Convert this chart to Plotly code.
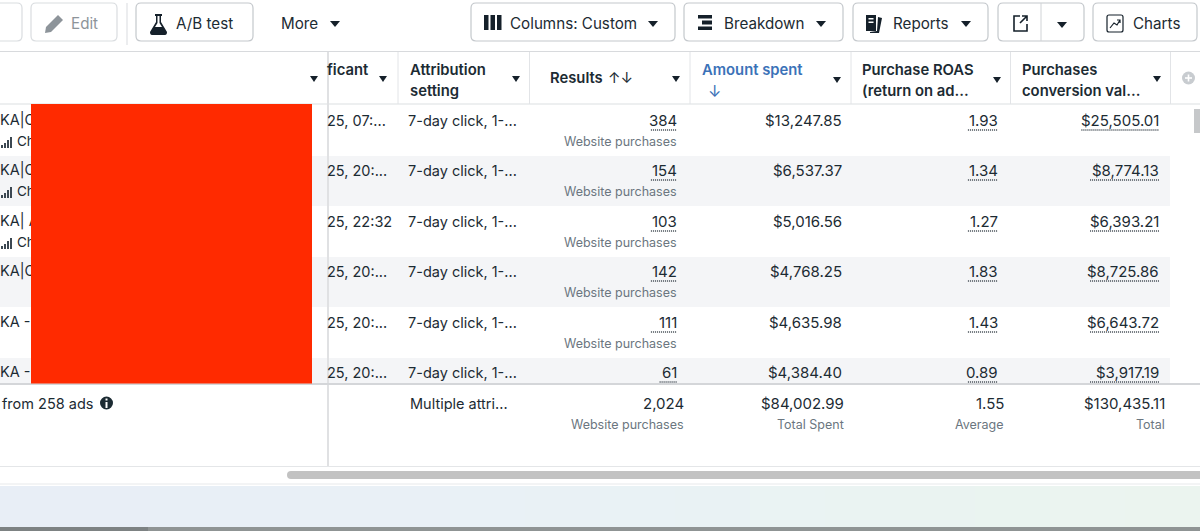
import plotly.graph_objects as go

FONT = "Inter"
DARK = "#1c2b33"
GREY = "#6b7680"
BLUE = "#3b72b8"

names = ["KA|C", "KA|C", "KA| A", "KA|C", "KA -", "KA -"]
last_significant = ["25, 07:...", "25, 20:...", "25, 22:32", "25, 20:...", "25, 20:...", "25, 20:..."]
attribution = ["7-day click, 1-..."] * 6
results = ["384", "154", "103", "142", "111", "61"]
amount_spent = ["$13,247.85", "$6,537.37", "$5,016.56", "$4,768.25", "$4,635.98", "$4,384.40"]
roas = ["1.93", "1.34", "1.27", "1.83", "1.43", "0.89"]
conversion_value = ["$25,505.01", "$8,774.13", "$6,393.21", "$8,725.86", "$6,643.72", "$3,917.19"]
row_centers = [121, 171, 222, 272, 323, 373]

totals = ["2,024", "$84,002.99", "1.55", "$130,435.11"]
total_labels = ["Website purchases", "Total Spent", "Average", "Total"]
total_right = [684, 844, 1004, 1165]

toolbar_labels = ["Edit", "A/B test", "More", "Columns: Custom", "Breakdown", "Reports", "Charts"]
toolbar_x = [71, 176, 281, 510, 724, 893, 1133]
toolbar_colors = ["#8d949a", DARK, DARK, DARK, DARK, DARK, DARK]

fig = go.Figure()
shapes = []
notes = []


def rect(x0, y0, x1, y1, fill, line=None, width=1, layer="below"):
    shapes.append(dict(type="rect", x0=x0, y0=y0, x1=x1, y1=y1, fillcolor=fill, layer=layer,
                       line=dict(color=line or fill, width=width if line else 0)))


def hline(x0, x1, y, color, width=1, dash="solid"):
    shapes.append(dict(type="line", x0=x0, x1=x1, y0=y, y1=y, layer="below",
                       line=dict(color=color, width=width, dash=dash)))


def vline(x, y0, y1, color, width=1):
    shapes.append(dict(type="line", x0=x, x1=x, y0=y0, y1=y1, layer="below", line=dict(color=color, width=width)))


def path(d, fill, line=None, width=1):
    shapes.append(dict(type="path", path=d, fillcolor=fill, layer="below",
                       line=dict(color=line or fill, width=width if line else 0)))


def circle(cx, cy, r, fill):
    shapes.append(dict(type="circle", x0=cx - r, x1=cx + r, y0=cy - r, y1=cy + r, fillcolor=fill,
                       layer="below", line=dict(width=0)))


def button(x0, x1, color="#c4c8cc", y0=3, y1=41, r=5):
    d = (f"M {x0+r} {y0} L {x1-r} {y0} Q {x1} {y0} {x1} {y0+r} L {x1} {y1-r} Q {x1} {y1} {x1-r} {y1} "
         f"L {x0+r} {y1} Q {x0} {y1} {x0} {y1-r} L {x0} {y0+r} Q {x0} {y0} {x0+r} {y0} Z")
    path(d, "white", color, 1.2)


def caret(x, y, w=5, color="#15202a"):
    path(f"M {x-w} {y-3} L {x+w} {y-3} L {x} {y+3} Z", color)


def text(x, y, s, size=14.5, color=DARK, anchor="left", weight=400):
    # annotations carry about 2px of padding, take it back out
    shift = -2 if anchor == "left" else 2
    notes.append(dict(x=x + shift, y=y - 0.5, text=s, showarrow=False, xanchor=anchor, yanchor="middle",
                      font=dict(family=FONT, size=size, color=color, weight=weight), align="left"))


def dotted_width(s):
    return sum(8.7 if c.isdigit() or c == "$" else 4 for c in s)


# table background
rect(0, 0, 1200, 531, "white")
for i in [1, 3, 5]:
    rect(327, row_centers[i] - 15, 1170, min(row_centers[i] + 35, 384), "#f4f5f7")
hline(0, 1200, 51.5, "#d8dadd", 1.2)
hline(0, 1200, 104, "#dcdfe2", 1.2)
for x in [398, 529.5, 690, 851, 1010.5, 1170.5]:
    vline(x, 52, 104, "#e2e4e7")

# toolbar
button(-20, 22, "#dadde0")
button(31, 117, "#dadde0")
vline(127, 3, 45, "#dfe1e4", 1.2)
button(136, 253)
button(471, 675)
button(684, 843)
button(853, 988)
button(998, 1084)
vline(1041, 3, 41, "#d0d3d6")
button(1093, 1197)

# toolbar icons
path("M 45 33 L 46 27 L 58 15 L 63 20 L 51 32 Z", "#8d949a")
path("M 155 14 L 162 14 L 162 16 L 161 16 L 161 22 L 167 32 Q 167 35 165 35 L 152 35 Q 150 35 150 32 L 156 22 L 156 16 L 155 16 Z",
     "#15202a")
path("M 157.5 16 L 159.5 16 L 159.5 23 L 162 27 L 155 27 L 157.5 23 Z", "white")
for x0 in [484, 490.5, 497]:
    rect(x0, 15, x0 + 4.5, 30, "#15202a")
rect(698, 15, 712, 18.5, "#15202a")
rect(702, 20.5, 712, 24.5, "#15202a")
rect(698, 26.5, 712, 30, "#15202a")
path("M 866 15 L 876 15 L 876 31 L 866 31 Z", "#15202a")
path("M 878 17 L 882 18 L 879 33 L 870 33 L 870 32 L 877 31 Z", "#15202a")
rect(868.5, 18, 873.5, 19.5, "white")
rect(868.5, 21.5, 873.5, 23, "white")
path("M 1020 16 L 1014 16 L 1014 31 L 1027 31 L 1027 24", "white", "#15202a", 1.6)
path("M 1020 23 L 1027 16 M 1022 16 L 1027 16 L 1027 21", "rgba(0,0,0,0)", "#15202a", 1.6)
button(1107, 1123, "#15202a", 15, 32, 2)
path("M 1110 28 L 1114 23 L 1117 25 L 1120 20 M 1117 20 L 1120 20 L 1120 23", "rgba(0,0,0,0)", "#15202a", 1.2)
for x, y in [(335, 24), (653, 24), (821, 24), (966, 24), (1062, 25)]:
    caret(x, y)

for s, x, c in zip(toolbar_labels, toolbar_x, toolbar_colors):
    text(x, 24, s, 15.2, c)

# column headers
H = 14.8
text(327, 70, "ficant", H, weight=600)
text(410, 70, "Attribution", H, weight=600)
text(410, 91, "setting", H, weight=600)
text(550, 78, "Results", H, weight=600)
text(608, 78, "↑↓", 15)
text(702, 70, "Amount spent", H, BLUE, weight=600)
text(708, 91, "↓", 16, BLUE)
text(862, 70, "Purchase ROAS", H, weight=600)
text(862, 91, "(return on ad...", H, weight=600)
text(1022, 70, "Purchases", H, weight=600)
text(1022, 91, "conversion val...", H, weight=600)
for x, y in [(383, 79), (516, 79), (676, 79), (837, 80), (997, 80), (1157, 79)]:
    caret(x, y, 4)
circle(1188.5, 78, 6.5, "#c8ccd0")
hline(1185, 1192, 78, "white", 1.6)
vline(1188.5, 74.5, 81.5, "white", 1.6)

# body rows
for i, y in enumerate(row_centers):
    text(408, y, attribution[i])
    text(327, y, last_significant[i])
    for col, right, underline in [(results, 677, True), (amount_spent, 842, False),
                                  (roas, 998, True), (conversion_value, 1159, True)]:
        text(right, y, col[i], 15, anchor="right")
        if underline:
            hline(right - dotted_width(col[i]), right, y + 9, "#3a444c", 1.3, "1px,1px")
    if i < 5:
        text(677, y + 21, "Website purchases", 12.5, GREY, "right")

# frozen left panel
rect(0, 52, 327, 466, "white")
vline(328, 52, 466, "#e0e1e3", 2)
hline(0, 327, 104, "#dcdfe2", 1.2)
for i in [1, 3, 5]:
    rect(0, row_centers[i] - 15, 327, min(row_centers[i] + 35, 384), "#f4f5f7")
caret(314, 79, 4)
for i, y in enumerate(row_centers):
    if i < 3:
        for k, h in enumerate([3, 5, 8, 11]):
            rect(1 + k * 3, y + 27 - h, 3 + k * 3, y + 27, "#3c4852")

# name text goes in as a trace so the red block can sit on top of it
fig.add_trace(go.Scatter(
    x=[0] * len(names), y=row_centers, text=names, mode="text", textposition="middle right",
    textfont=dict(family=FONT, size=14.5, color=DARK), hoverinfo="skip",
))
fig.add_trace(go.Scatter(
    x=[17] * 3, y=[y + 22 for y in row_centers[:3]], text=["Ch"] * 3, mode="text", textposition="middle right",
    textfont=dict(family=FONT, size=13.5, color=DARK), hoverinfo="skip",
))
rect(31, 104, 312, 383.5, "#ff2a00", layer="above")

# totals row
rect(329, 384, 1200, 466, "white")
hline(0, 1200, 384, "#d4d6d9", 2)
text(2, 404, "from 258 ads", 14.5)
circle(106.5, 403, 6.5, "#1c2b33")
rect(105.5, 402, 107.5, 408, "white")
rect(105.5, 398.5, 107.5, 400.5, "white")
text(410, 404, "Multiple attri...")
for val, label, right in zip(totals, total_labels, total_right):
    text(right, 404, val, 15, anchor="right")
    text(right, 425, label, 12.5, GREY, "right")

# scrollbars and bottom strip
rect(1194, 109, 1200, 133, "#c6c8ca")
hline(0, 1200, 466.5, "#e4e6e8", 1.2)
path("M 291 471 L 1200 471 L 1200 479 L 291 479 Q 287 479 287 475 Q 287 471 291 471 Z", "#c2c2c2")
hline(0, 1200, 484, "#e8e9ec", 1.2)
band_colors = ["#e8eef6", "#e8eef6", "#e8eff6", "#e8eff6", "#e9f0f6", "#e9f0f6", "#e9f1f6", "#e9f1f5",
               "#e9f2f5", "#e9f2f4", "#eaf3f3", "#eaf3f2", "#eaf3f1", "#eaf4f0", "#ebf4f0", "#ebf4ef"]
for i, c in enumerate(band_colors):
    rect(i * 75, 486, (i + 1) * 75, 527, c)
rect(0, 527, 1200, 531, "#8f9494")
rect(0, 527, 148, 531, "#7d8283")

fig.update_layout(
    width=1200, height=531,
    margin=dict(l=0, r=0, t=0, b=0),
    paper_bgcolor="white", plot_bgcolor="white",
    xaxis=dict(visible=False, range=[0, 1200], fixedrange=True),
    yaxis=dict(visible=False, range=[531, 0], fixedrange=True),
    shapes=shapes, annotations=notes, showlegend=False,
)
fig.write_html("out.html", config={"displayModeBar": False},
               post_script="document.body.style.margin='0';document.body.style.overflow='hidden';")
